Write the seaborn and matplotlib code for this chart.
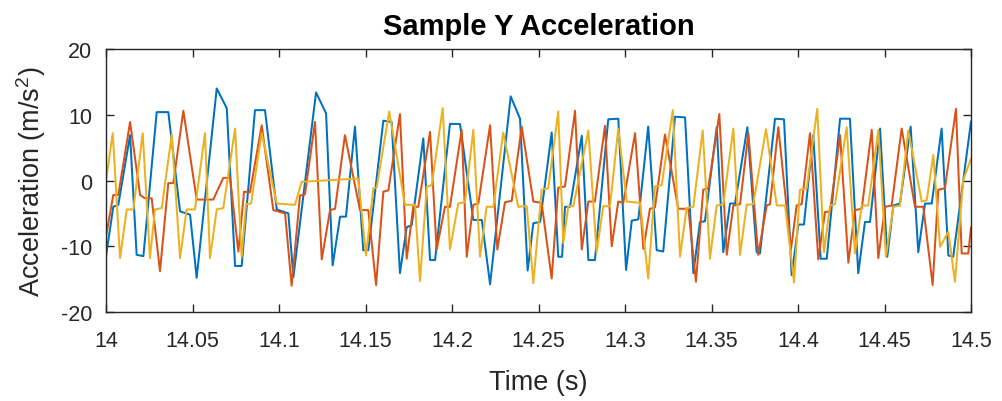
import numpy as np
import pandas as pd
import matplotlib
matplotlib.use("Agg")
import matplotlib.pyplot as plt
import seaborn as sns

# Window start (s) and sample times within the window (ms after T0)
T0 = 14.0

blue_ms = [0, 4.2, 7.1, 13.9, 17.7, 21.6, 29.3, 36.0, 42.8, 48.6, 52.4, 64.0, 69.8, 74.6, 78.4,
           86.1, 91.9, 98.7, 105.4, 108.3, 121.4, 127.2, 131.0, 135.3, 138.7, 143.9, 148.7, 151.6,
           160.3, 165.1, 169.9, 173.8, 176.7, 183.4, 187.3, 190.2, 198.8, 204.6, 212.3, 217.2,
           222.0, 233.9, 239.3, 243.7, 247.0, 250.9, 257.6, 261.4, 263.6, 265.3, 268.2, 275.0,
           278.8, 282.6, 290.3, 296.1, 300.6, 303.9, 307.7, 313.4, 318.3, 322.1, 328.9, 334.7,
           339.5, 343.3, 346.2, 353.0, 356.8, 360.7, 363.6, 370.7, 376.1, 378.0, 386.7, 391.9,
           396.3, 400.2, 403.4, 408.8, 413.1, 416.6, 424.3, 430.0, 434.8, 438.7, 441.6, 447.4,
           451.6, 455.1, 458.9, 465.1, 469.5, 473.4, 477.3, 483.0, 486.9, 489.7, 500.0]
blue_acc = [-11.5, -4.0, -3.7, 6.9, -11.3, -11.5, 10.4, 10.4, -4.7, -5.2, -14.8, 14.0, 11.0, -13.0,
            -13.0, 10.7, 10.7, -4.4, -5.0, -14.7, 13.4, 10.2, -12.9, -5.5, -5.5, 8.2, -10.6, -10.6,
            9.1, 8.9, -14.1, -7.1, -6.8, 6.4, -12.1, -12.1, 8.6, 8.6, -6.0, -6.0, -15.8, 12.8, 9.4,
            -13.7, -6.5, -6.3, 7.3, -11.6, -11.6, -4.0, -4.0, 6.8, -12.1, -12.1, 9.3, 9.4, -13.6,
            -6.1, -5.9, 8.2, -10.6, -10.8, 9.7, 9.6, -14.1, -6.3, -6.2, 8.1, -10.9, -3.5, -3.5, 8.1,
            -10.9, -11.1, 9.4, 9.3, -14.4, -6.7, -6.7, 6.9, -11.9, -11.9, 9.4, 9.4, -14.1, -6.3,
            -6.3, 7.9, -11.6, -3.8, -3.5, 8.2, -10.9, -3.5, -3.5, 7.9, -11.4, -11.6, 9.0]

red_ms = [0, 4.2, 7.1, 13.9, 19.7, 22.5, 26.4, 31.2, 36.0, 38.9, 44.7, 52.4, 62.0, 67.8, 71.7,
          76.5, 79.8, 83.2, 90.0, 96.7, 103.5, 107.3, 112.1, 115.0, 120.8, 124.7, 129.5, 132.4,
          138.1, 146.8, 151.6, 156.1, 160.3, 163.2, 169.9, 173.8, 177.6, 180.5, 187.3, 191.1,
          195.9, 198.8, 205.6, 208.5, 212.3, 215.2, 222.0, 226.2, 230.6, 234.5, 240.3, 247.0,
          251.8, 257.6, 261.4, 265.3, 271.1, 275.0, 278.8, 282.6, 288.4, 292.3, 296.1, 299.0,
          305.8, 310.6, 314.4, 317.3, 323.1, 330.8, 336.6, 341.0, 345.2, 348.1, 354.5, 358.8,
          362.6, 366.5, 371.3, 377.0, 381.9, 383.8, 388.6, 395.9, 399.2, 402.1, 406.9, 411.7,
          415.6, 418.5, 424.3, 429.1, 432.9, 436.8, 442.6, 446.4, 450.3, 454.1, 459.9, 467.6,
          472.4, 477.8, 481.1, 484.9, 491.3, 494.6, 498.4, 500.0]
red_acc = [-8.5, -2.2, -2.2, 8.9, -2.2, -2.7, -2.7, -13.8, -0.4, -0.4, 10.6, -2.9, -2.9, 0.4, 0.4,
           -10.8, -1.7, -1.8, 8.4, -4.5, -5.0, -16.0, -2.3, -2.1, 8.9, -12.0, -4.5, -4.3, 6.9,
           -4.5, -4.5, -15.9, -1.7, -1.5, 10.1, -11.9, -4.0, -4.0, 7.4, -10.5, -4.0, -4.0, 7.7,
           -11.6, -3.7, -3.5, 8.4, -10.5, -3.3, -3.1, 8.2, -3.2, -3.4, -14.9, -1.1, -0.9, 10.6,
           -10.5, -3.2, -3.2, 8.3, -10.0, -3.2, -3.4, 7.2, -10.4, -4.3, -4.1, 7.0, -4.3, -4.3,
           -15.4, -1.4, -1.2, 10.1, -11.3, -3.8, -3.6, 7.2, -11.3, -3.8, -3.6, 8.1, -10.5, -3.8,
           -3.6, 7.2, -12.0, -4.8, -4.7, 6.9, -12.5, -4.5, -4.3, 7.7, -11.8, -4.0, -3.8, 7.9,
           -4.0, -4.0, -15.9, -1.4, -1.2, 10.9, -11.1, -11.1, -7.1]

yellow_ms = [0, 3.9, 8.1, 12.0, 15.8, 21.2, 25.4, 28.3, 32.2, 38.0, 42.8, 46.6, 51.4, 57.2, 60.1,
             64.0, 67.8, 74.6, 78.4, 80.9, 83.8, 90.0, 98.7, 109.2, 113.1, 145.8, 150.3, 154.5,
             156.5, 163.7, 172.8, 178.6, 181.5, 185.4, 188.3, 194.6, 198.8, 203.6, 207.5, 212.3,
             216.2, 220.0, 223.9, 229.6, 238.3, 243.2, 247.0, 251.8, 255.6, 261.4, 264.3, 267.2,
             270.1, 278.8, 283.6, 287.4, 291.3, 296.1, 301.0, 308.7, 313.4, 317.3, 321.2, 327.6,
             331.8, 335.6, 339.5, 344.9, 349.1, 353.0, 356.8, 362.6, 366.5, 370.3, 374.1, 381.5,
             387.7, 392.5, 397.7, 401.1, 405.0, 411.1, 415.0, 418.5, 421.4, 428.1, 432.9, 436.8,
             440.6, 446.4, 450.8, 455.1, 458.9, 463.7, 471.5, 474.4, 478.2, 482.1, 486.9, 490.7,
             495.5, 500.0]
yellow_acc = [0.0, 7.2, -11.8, -4.4, -4.4, 7.2, -11.8, -4.4, -4.2, 7.0, -11.8, -4.4, -4.4, 7.2,
              -11.8, -4.4, -4.2, 7.9, -11.6, -3.6, -3.5, 7.2, -3.5, -3.7, -0.2, 0.3, -11.4, -1.2,
              -1.0, 10.5, -3.7, -3.7, -15.3, -0.9, -0.7, 11.0, -10.5, -3.5, -3.3, 7.7, -11.6, -4.0,
              -4.0, 7.3, -4.0, -3.9, -15.6, -1.4, -1.2, 10.5, -9.5, -3.9, -3.9, 7.6, -10.9, -3.9,
              -3.9, 7.9, -3.2, -3.4, -14.9, -0.9, -0.7, 10.7, -11.6, -4.2, -4.0, 7.6, -11.9, -3.8,
              -3.6, 7.9, -11.3, -3.7, -3.6, 7.8, -3.8, -3.8, -15.5, -1.4, -1.2, 10.9, -10.9, -3.8,
              -3.6, 8.1, -11.1, -3.8, -3.8, 7.7, -11.6, -4.0, -3.8, 7.6, -3.2, -3.0, 3.9, -10.1,
              -7.8, -15.4, 0.1, 3.3]

x_ticks = [14.0, 14.05, 14.1, 14.15, 14.2, 14.25, 14.3, 14.35, 14.4, 14.45, 14.5]
x_tick_labels = ["14", "14.05", "14.1", "14.15", "14.2", "14.25", "14.3", "14.35", "14.4", "14.45", "14.5"]
y_ticks = [-20, -10, 0, 10, 20]
y_tick_labels = ["-20", "-10", "0", "10", "20"]

line_colors = ["#0072BD", "#D95319", "#EDB120"]

sns.set_theme(style="white")
plt.rcParams["font.family"] = ["Liberation Sans", "DejaVu Sans"]
plt.rcParams["mathtext.default"] = "regular"

fig = plt.figure(figsize=(10.02, 4.02), dpi=100)
ax = fig.add_axes([0.1058, 0.2214, 0.8633, 0.6542])

series = [(blue_ms, blue_acc), (red_ms, red_acc), (yellow_ms, yellow_acc)]
for (ms, acc), col in zip(series, line_colors):
    t = T0 + np.asarray(ms) / 1000.0
    sns.lineplot(x=t, y=np.asarray(acc), ax=ax, color=col, linewidth=1.45,
                 sort=False, estimator=None)

ax.set_xlim(14.0, 14.5)
ax.set_ylim(-20, 20)
ax.set_xticks(x_ticks)
ax.set_xticklabels(x_tick_labels)
ax.set_yticks(y_ticks)
ax.set_yticklabels(y_tick_labels)

axis_grey = "#262626"
for sp in ax.spines.values():
    sp.set_visible(True)
    sp.set_color(axis_grey)
    sp.set_linewidth(1.0)
ax.tick_params(direction="in", length=6, width=1.0, color=axis_grey,
               labelcolor=axis_grey, labelsize=15.5, top=True, right=True,
               bottom=True, left=True)
ax.tick_params(axis="x", pad=13)
ax.tick_params(axis="y", pad=10)

ax.set_xlabel("Time (s)", fontsize=19.5, color=axis_grey, labelpad=13)
ax.set_ylabel("Acceleration (m/s$^2$)", fontsize=19.5, color=axis_grey, labelpad=9)
ax.set_title("Sample Y Acceleration", fontsize=21, fontweight="bold", color="black", pad=11)
ax.grid(False)

fig.savefig("out.png", dpi=100)
